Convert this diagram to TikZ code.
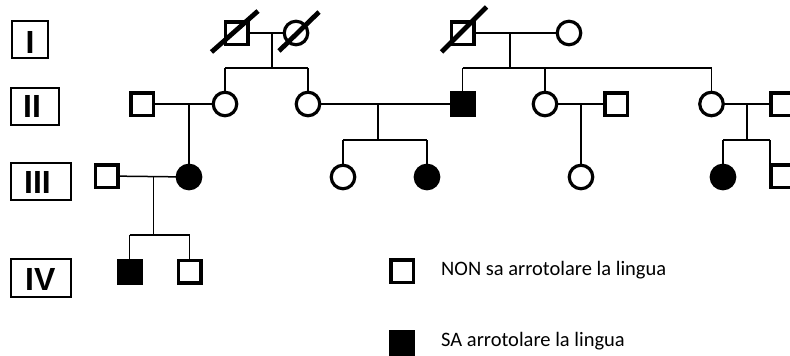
\documentclass[tikz,border=0pt]{standalone}
\usepackage{fontspec}
\setmainfont{Carlito}
\newfontfamily\numfont{Liberation Sans}
\usetikzlibrary{calc}
\begin{document}
\begin{tikzpicture}[x=1pt,y=-1pt,
  sq/.style={rectangle,draw,line width=3.5pt,minimum size=22.5pt,inner sep=0pt,outer sep=0pt},
  ci/.style={circle,draw,line width=3.2pt,minimum size=23.5pt,inner sep=0pt,outer sep=0pt},
  aff/.style={fill=black},
  link/.style={line width=1.5pt},
  dead/.style={line width=4.8pt},
  genbox/.style={draw,line width=1.3pt,inner sep=0pt,outer sep=0pt},
  gentext/.style={font=\numfont\bfseries\fontsize{32}{32}\selectfont,inner sep=0pt,anchor=base west},
  legtext/.style={font=\fontsize{20.5}{22}\selectfont,inner sep=0pt,anchor=base west}]
\fill[white] (0,0) rectangle (790,356);
\useasboundingbox (0,0) rectangle (790,356);
% generation labels
\node[genbox,minimum width=36pt,minimum height=37pt] (g1) at (30,39.5) {};
\node[genbox,minimum width=48pt,minimum height=37pt] (g2) at (35,106.5) {};
\node[genbox,minimum width=60pt,minimum height=37pt] (g3) at (41,181.5) {};
\node[genbox,minimum width=60pt,minimum height=38pt] (g4) at (41,278) {};
\node[gentext] (t1) at (25.5,53) {I};
\node[gentext] (t2) at (23,117) {II};
\node[gentext] (t3) at (24,193) {III};
\node[gentext] (t4) at (25,290) {IV};
% generation I
\node[sq] (a1) at (236.5,33) {};
\node[ci] (a2) at (296,33) {};
\node[sq] (b1) at (462.5,33) {};
\node[ci] (b2) at (569,33) {};
% generation II
\node[sq] (c1) at (142,104) {};
\node[ci] (c2) at (225,104) {};
\node[ci] (c3) at (308,104) {};
\node[sq,aff] (c4) at (462.5,104) {};
\node[ci] (c5) at (545,104) {};
\node[sq] (c6) at (616,104) {};
\node[ci] (c7) at (711.5,104) {};
\node[sq] (c8) at (782,104) {};
% generation III
\node[sq] (d1) at (106.5,176) {};
\node[ci,aff] (d2) at (189,177) {};
\node[ci] (d3) at (343,177) {};
\node[ci,aff] (d4) at (427,177) {};
\node[ci] (d5) at (581,177) {};
\node[ci,aff] (d6) at (723,177) {};
\node[sq] (d7) at (782,176) {};
% generation IV
\node[sq,aff] (e1) at (129.5,271.5) {};
\node[sq] (e2) at (189.5,271.5) {};
% deceased slashes
\draw[dead] ($(a1)+(-25,19)$) -- ($(a1)+(21.5,-22)$);
\draw[dead] ($(a2)+(-17,18)$) -- ($(a2)+(23,-21)$);
\draw[dead] ($(b1)+(-21,19)$) -- ($(b1)+(24,-26)$);
% junctions
\coordinate (m1) at (272,33);  \coordinate (s1) at (272,68);
\coordinate (m2) at (510,33);  \coordinate (s2) at (510,68);
\coordinate (m3) at (189,104);
\coordinate (m4) at (378,104); \coordinate (s4) at (378,140);
\coordinate (m5) at (581,104);
\coordinate (m6) at (747,104); \coordinate (s6) at (747,140);
\coordinate (k7) at (770,140);
\coordinate (m7) at (153.5,176); \coordinate (s7) at (153.5,235);
% couple I left
\draw[link] (a1) -- (a2);
\draw[link] (m1) -- (s1);
\draw[link] (s1 -| c2) -- (s1 -| c3);
\draw[link] (s1 -| c2) -- (c2);
\draw[link] (s1 -| c3) -- (c3);
% couple I right
\draw[link] (b1) -- (b2);
\draw[link] (m2) -- (s2);
\draw[link] (s2 -| c4) -- (s2 -| c7);
\draw[link] (s2 -| c4) -- (c4);
\draw[link] (s2 -| c5) -- (c5);
\draw[link] (s2 -| c7) -- (c7);
% couples II
\draw[link] (c1) -- (c2);
\draw[link] (m3) -- (d2);
\draw[link] (c3) -- (c4);
\draw[link] (m4) -- (s4);
\draw[link] (s4 -| d3) -- (s4 -| d4);
\draw[link] (s4 -| d3) -- (d3);
\draw[link] (s4 -| d4) -- (d4);
\draw[link] (c5) -- (c6);
\draw[link] (m5) -- (d5);
\draw[link] (c7) -- (c8);
\draw[link] (m6) -- (s6);
\draw[link] (s6 -| d6) -- (k7);
\draw[link] (s6 -| d6) -- (d6);
\draw[link] (k7) -- (k7 |- d7.north);
% couple III
\draw[link] (d1) -- (d2);
\draw[link] (m7) -- (s7);
\draw[link] (s7 -| e1) -- (s7 -| e2);
\draw[link] (s7 -| e1) -- (e1);
\draw[link] (s7 -| e2) -- (e2);
% legend
\node[sq] (l1) at (402,271) {};
\node[sq,aff] (l2) at (402,342.5) {};
\node[legtext] (lt1) at (441,275.5) {NON sa arrotolare la lingua};
\node[legtext] (lt2) at (441,346.5) {SA arrotolare la lingua};
\end{tikzpicture}
\end{document}
